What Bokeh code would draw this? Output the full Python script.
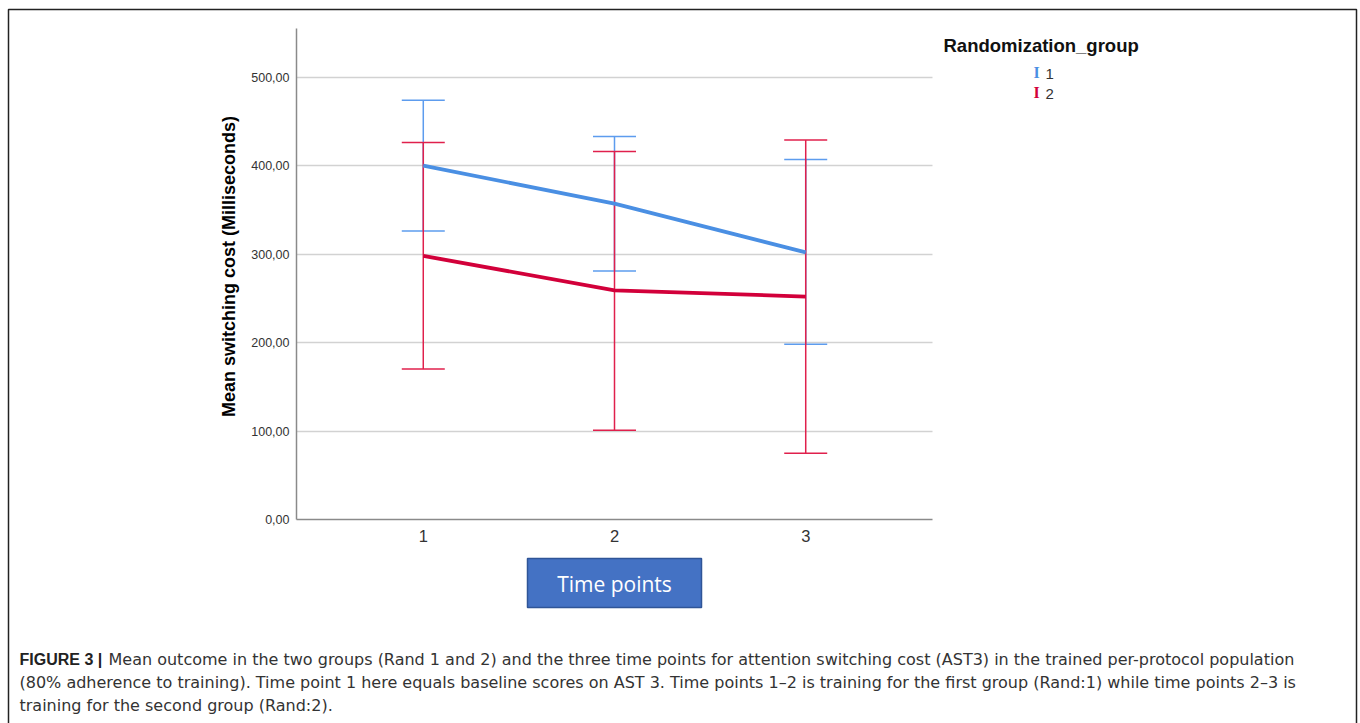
import math
from bokeh.plotting import figure
from bokeh.models import ColumnDataSource, Whisker, TeeHead, FixedTicker
from bokeh.core.properties import value
from bokeh.embed import file_html
from bokeh.resources import INLINE

# ---------------- data ----------------
time_points = [1, 2, 3]
x_tick_labels = ["1", "2", "3"]
g1_mean = [400, 357, 302]
g1_upper = [474, 433, 407]
g1_lower = [326, 281, 198]
g2_mean = [298, 259, 252]
g2_upper = [426, 416, 429]
g2_lower = [170, 101, 75]
y_ticks = [0, 100, 200, 300, 400, 500]
y_tick_labels = ["0,00", "100,00", "200,00", "300,00", "400,00", "500,00"]
group_names = ["1", "2"]
legend_title = "Randomization_group"
y_title = "Mean switching cost (Milliseconds)"
x_title = "Time points"
caption_bold = "FIGURE 3 |"
caption_lines = [
    "Mean outcome in the two groups (Rand 1 and 2) and the three time points for attention switching cost (AST3) in the trained per-protocol population",
    "(80% adherence to training). Time point 1 here equals baseline scores on AST 3. Time points 1\u20132 is training for the first group (Rand:1) while time points 2\u20133 is",
    "training for the second group (Rand:2).",
]

BLUE = "#4A8FE3"
BLUE_EB = "#5D9CEE"
RED = "#D2003A"
RED_EB = "#E0204C"

# ---------------- geometry ----------------
W, H = 1360, 723
PX0, PX1 = 296, 932          # plot area left/right (pixels)
PY_TOP, PY_BOT = 28, 519     # plot area top/bottom (pixels)
X_LO, X_HI = 0.337, 3.663    # data range of plot area
Y_LO, Y_HI = 0, 555

ppx = (PX1 - PX0) / (X_HI - X_LO)
ppy = (PY_BOT - PY_TOP) / (Y_HI - Y_LO)
x_start = X_LO - PX0 / ppx
x_end = X_HI + (W - PX1) / ppx
y_start = Y_LO - (H - PY_BOT) / ppy
y_end = Y_HI + PY_TOP / ppy


def dx(X):
    return x_start + X / ppx


def dy(Y):
    return y_end - Y / ppy


p = figure(width=W, height=H, x_range=(x_start, x_end), y_range=(y_start, y_end),
           output_backend="svg", toolbar_location=None, title=None,
           min_border=0)
p.outline_line_color = None
p.background_fill_color = "white"
p.border_fill_color = "white"

# axes at fixed locations
xa = p.xaxis[0]
ya = p.yaxis[0]
xa.fixed_location = Y_LO
ya.fixed_location = X_LO
xa.bounds = (X_LO, X_HI)
ya.bounds = (Y_LO, Y_HI)
xa.ticker = FixedTicker(ticks=time_points)
xa.major_label_overrides = {t: l for t, l in zip(time_points, x_tick_labels)}
ya.ticker = FixedTicker(ticks=y_ticks)
ya.major_label_overrides = {t: l for t, l in zip(y_ticks, y_tick_labels)}
for ax in (xa, ya):
    ax.axis_line_color = "#8a8a8a"
    ax.axis_line_width = 1.5
    ax.major_tick_line_color = None
    ax.minor_tick_line_color = None
    ax.major_tick_out = 0
    ax.major_tick_in = 0
    ax.minor_tick_out = 0
    ax.minor_tick_in = 0
    ax.major_label_text_color = "#333333"
    ax.major_label_text_font = "Liberation Sans"
xa.major_label_text_font_size = "16.5px"
xa.major_label_standoff = 10
ya.major_label_text_font_size = "12.5px"
ya.major_label_standoff = 7

p.xgrid.grid_line_color = None
p.ygrid.ticker = FixedTicker(ticks=y_ticks[1:])
p.ygrid.grid_line_color = "#d2d2d2"
p.ygrid.grid_line_width = 1.5
p.ygrid.cross_bounds = (X_LO, X_HI)

# error bars
src1 = ColumnDataSource(dict(x=time_points, m=g1_mean, up=g1_upper, lo=g1_lower))
src2 = ColumnDataSource(dict(x=time_points, m=g2_mean, up=g2_upper, lo=g2_lower))
for src, col in ((src1, BLUE_EB), (src2, RED_EB)):
    w = Whisker(source=src, base="x", upper="up", lower="lo", dimension="height",
                line_color=col, line_width=1.5,
                upper_head=TeeHead(size=43, line_color=col, line_width=1.5),
                lower_head=TeeHead(size=43, line_color=col, line_width=1.5))
    p.add_layout(w)

p.line("x", "m", source=src1, line_color=BLUE, line_width=3.8, line_join="round")
p.line("x", "m", source=src2, line_color=RED, line_width=3.8, line_join="round")


def put(X, Y, text, size, color="#333333", font="Liberation Sans", style="normal",
        align="left", baseline="middle", angle=0.0):
    p.text(x=[dx(X)], y=[dy(Y)], text=[text], text_font_size=size, text_color=color,
           text_font=value(font), text_font_style=style, text_align=align,
           text_baseline=baseline, angle=angle)


def rect(l, r, t, b, fill, line, lw):
    p.quad(left=[dx(l)], right=[dx(r)], top=[dy(t)], bottom=[dy(b)],
           fill_color=fill, fill_alpha=1 if fill else 0,
           line_color=line, line_width=lw)


# y-axis title
put(228, 266, y_title, "18px", color="black", style="bold", align="center",
    angle=math.pi / 2)

# outer frame
rect(8, 1356, 9, 760, None, "#222222", 1.5)

# x title box
rect(527, 701, 558, 607, "#4472C4", "#2F5597", 1.5)
put(614, 583, x_title, "21px", color="white", font="Open Sans", align="center")

# legend
put(943, 45, legend_title, "18.5px", color="#111111", style="bold")
put(1036, 72, "I", "16px", color=BLUE, font="Liberation Serif", align="center", style="bold")
put(1036, 92, "I", "16px", color=RED, font="Liberation Serif", align="center", style="bold")
put(1045, 73, group_names[0], "15px", color="#333333")
put(1045, 93, group_names[1], "15px", color="#333333")

# caption
put(19, 659, caption_bold, "16px", color="#222222", style="bold")
put(108, 659, caption_lines[0], "16px", color="#333333", font="DejaVu Sans")
put(19, 682, caption_lines[1], "16px", color="#333333", font="DejaVu Sans")
put(19, 705, caption_lines[2], "16px", color="#333333", font="DejaVu Sans")

open("out.html", "w").write(file_html(p, INLINE))
